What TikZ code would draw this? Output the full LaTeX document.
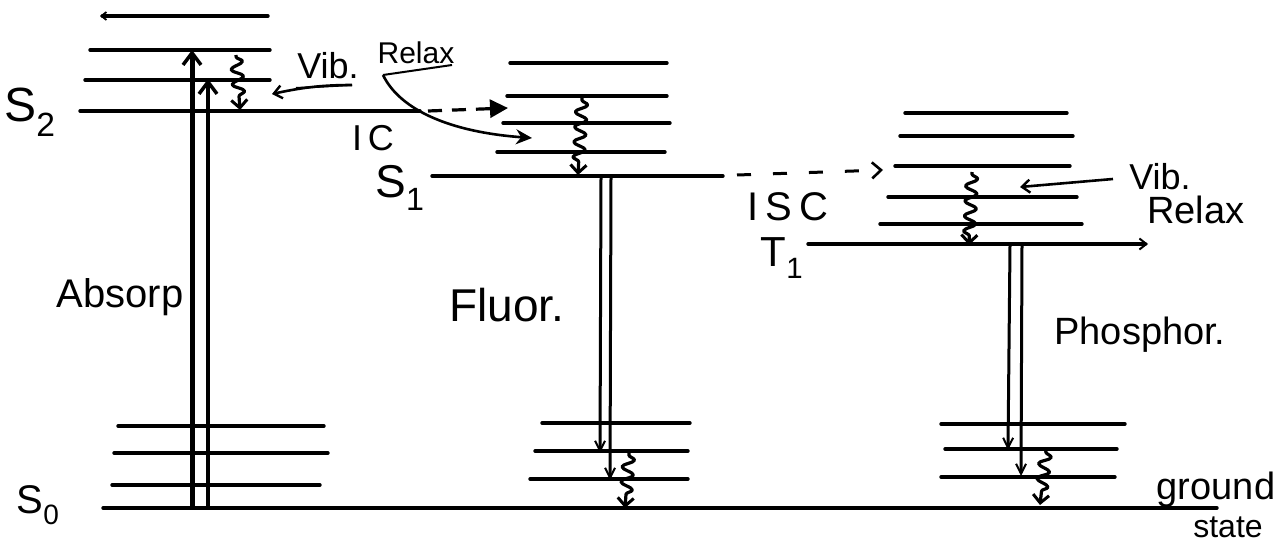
\documentclass[tikz,border=0pt]{standalone}
\usepackage{fontspec}
\setmainfont{Liberation Sans}
\usetikzlibrary{arrows.meta,decorations.pathmorphing}
\begin{document}
\begin{tikzpicture}[x=1pt,y=-1pt,
  level/.style={line width=3.4pt, line cap=round},
  emis/.style={line width=3pt,-{Straight Barb[length=10pt,width=10pt,line width=2pt]}},
  absarrow/.style={-{Straight Barb[length=12pt,width=18pt,line width=3.5pt]}},
  wavy/.style={line width=3.2pt, line join=round, decorate,
    decoration={snake, amplitude=6pt, segment length=15pt, pre length=2pt, post length=8pt},
    -{Straight Barb[length=8pt,width=16pt,line width=3pt]}},
  lbl/.style={inner sep=0pt, anchor=center},
  hand/.style={lbl, font=\fontsize{#1}{#1}\selectfont},
]
\useasboundingbox (0,0) rectangle (1278,543);

% ---------- S2 group ----------
\coordinate (s2a) at (100,16);  \coordinate (s2ae) at (268,16);
\coordinate (s2b) at (90,50);   \coordinate (s2be) at (270,50);
\coordinate (s2c) at (85,80);   \coordinate (s2ce) at (270,80);
\coordinate (s2) at (80,111);   \coordinate (s2e) at (420,111);
\draw[level,{Straight Barb[length=5pt,width=8pt,line width=1.8pt]}-] (s2a) -- (s2ae);
\draw[level] (s2b) -- (s2be);
\draw[level] (s2c) -- (s2ce);
\draw[level] (s2) -- (s2e);

% ---------- S1 group ----------
\coordinate (s1a) at (510,63);  \coordinate (s1ae) at (667,63);
\coordinate (s1b) at (507,96);  \coordinate (s1be) at (667,96);
\coordinate (s1c) at (503,123); \coordinate (s1ce) at (670,123);
\coordinate (s1d) at (497,152); \coordinate (s1de) at (665,152);
\coordinate (s1) at (432,176);  \coordinate (s1e) at (723,176);
\foreach \a/\b in {s1a/s1ae,s1b/s1be,s1c/s1ce,s1d/s1de,s1/s1e}
  \draw[level] (\a) -- (\b);

% ---------- T1 group ----------
\coordinate (t1a) at (905,113); \coordinate (t1ae) at (1067,113);
\coordinate (t1b) at (900,136); \coordinate (t1be) at (1073,136);
\coordinate (t1c) at (895,166); \coordinate (t1ce) at (1070,166);
\coordinate (t1d) at (888,197); \coordinate (t1de) at (1077,197);
\coordinate (t1e1) at (880,224); \coordinate (t1ee) at (1082,224);
\coordinate (t1) at (808,244);  \coordinate (t1end) at (1148,244);
\foreach \a/\b in {t1a/t1ae,t1b/t1be,t1c/t1ce,t1d/t1de,t1e1/t1ee}
  \draw[level] (\a) -- (\b);
\draw[level,-{Straight Barb[length=7pt,width=11pt,line width=2pt]}] (t1) -- (t1end);

% ---------- S0 vibrational levels ----------
\coordinate (g1a) at (118,426); \coordinate (g1ae) at (324,426);
\coordinate (g1b) at (114,453); \coordinate (g1be) at (328,453);
\coordinate (g1c) at (112,485); \coordinate (g1ce) at (320,485);
\coordinate (g2a) at (542,423); \coordinate (g2ae) at (690,423);
\coordinate (g2b) at (535,451); \coordinate (g2be) at (688,451);
\coordinate (g2c) at (530,479); \coordinate (g2ce) at (688,479);
\coordinate (g3a) at (941,424); \coordinate (g3ae) at (1125,424);
\coordinate (g3b) at (945,449); \coordinate (g3be) at (1117,449);
\coordinate (g3c) at (941,477); \coordinate (g3ce) at (1115,477);
\coordinate (s0) at (103,508);  \coordinate (s0e) at (1217,508);
\foreach \a/\b in {g1a/g1ae,g1b/g1be,g1c/g1ce,g2a/g2ae,g2b/g2be,g2c/g2ce,g3a/g3ae,g3b/g3be,g3c/g3ce,s0/s0e}
  \draw[level] (\a) -- (\b);

% ---------- Absorption ----------
\coordinate (ab1s) at (192,508); \coordinate (ab1e) at (192,50);
\coordinate (ab2s) at (208,508); \coordinate (ab2e) at (208,79);
\draw[absarrow,line width=5pt] (ab1s) -- (ab1e);
\draw[absarrow,line width=3.6pt] (ab2s) -- (ab2e);

% ---------- Fluorescence ----------
\coordinate (fl1s) at (601,178); \coordinate (fl1e) at (600,453);
\coordinate (fl2s) at (611,178); \coordinate (fl2e) at (610,480);
\draw[emis] (fl1s) -- (fl1e);
\draw[emis] (fl2s) -- (fl2e);

% ---------- Phosphorescence ----------
\coordinate (ph1s) at (1010,246); \coordinate (ph1e) at (1008,450);
\coordinate (ph2s) at (1022,246); \coordinate (ph2e) at (1021,476);
\draw[emis] (ph1s) -- (ph1e);
\draw[emis] (ph2s) -- (ph2e);

% ---------- Vibrational relaxation (wavy) ----------
\coordinate (w1s) at (236,55);  \coordinate (w1e) at (240,110);
\coordinate (w2s) at (582,98);  \coordinate (w2e) at (578,175);
\coordinate (w3s) at (972,172); \coordinate (w3e) at (969,245);
\coordinate (w4s) at (629,453); \coordinate (w4e) at (625,508);
\coordinate (w5s) at (1046,450);\coordinate (w5e) at (1040,505);
\foreach \a/\b in {w1s/w1e,w2s/w2e,w3s/w3e,w4s/w4e,w5s/w5e}
  \draw[wavy] (\a) -- (\b);

% ---------- IC and ISC ----------
\coordinate (ics) at (428,111); \coordinate (ice) at (508,108);
\draw[line width=3.2pt, dash pattern=on 14pt off 10pt,
  -{Triangle[length=18pt,width=18pt]}] (ics) -- (ice);
\coordinate (iscs) at (737,175); \coordinate (isce) at (883,170);
\draw[line width=3pt, dash pattern=on 14pt off 22pt,
  -{Straight Barb[length=9pt,width=16pt,line width=2.6pt]}] (iscs) -- (isce);

% ---------- Labels ----------
\node[hand=48] (lS2) at (30,112) {S\textsubscript{2}};
\node[hand=46] (lS1) at (400,188) {S\textsubscript{1}};
\node[hand=42] (lT1) at (782,258) {T\textsubscript{1}};
\node[hand=40] (lS0) at (38,505) {S\textsubscript{0}};
\node[hand=36] (lIC) at (373,138) {I\,C};
\node[hand=40] (lISC) at (788,207) {I\,S\,C};
\node[hand=40] (lAbs) at (120,297) {Absorp};
\node[hand=46] (lFl) at (507,305) {Fluor.};
\node[hand=38] (lPh) at (1140,335) {Phosphor.};
\node[hand=36] (lvib1) at (328,66) {Vib.};
\node[hand=30] (lrel1) at (416,53) {Relax};
\node[hand=36] (lvib2) at (1160,177) {Vib.};
\node[hand=38] (lrel2) at (1196,210) {Relax};
\node[hand=38] (lgr) at (1216,490) {ground};
\node[hand=32] (lst) at (1228,527) {state};

% ---------- Vib. Relax pointers ----------
\coordinate (vr1s) at (352,85); \coordinate (vr1e) at (272,94);
\draw[line width=2.6pt,-{Straight Barb[length=8pt,width=13pt,line width=2.4pt]}]
  (vr1s) .. controls (320,85) and (300,88) .. (vr1e);
\draw[line width=2pt] (296,88) -- (vr1s);
\coordinate (cr1s) at (383,75); \coordinate (cr1e) at (532,138);
\draw[line width=2.6pt,-{Stealth[length=16pt,width=15pt]}]
  (cr1s) .. controls (400,110) and (450,132) .. (cr1e);
\draw[line width=2pt] (cr1s) -- (452,65);
\coordinate (vr2s) at (1113,179); \coordinate (vr2e) at (1020,187);
\draw[line width=2.6pt,-{Straight Barb[length=8pt,width=13pt,line width=2.4pt]}] (vr2s) -- (vr2e);
\end{tikzpicture}
\end{document}
